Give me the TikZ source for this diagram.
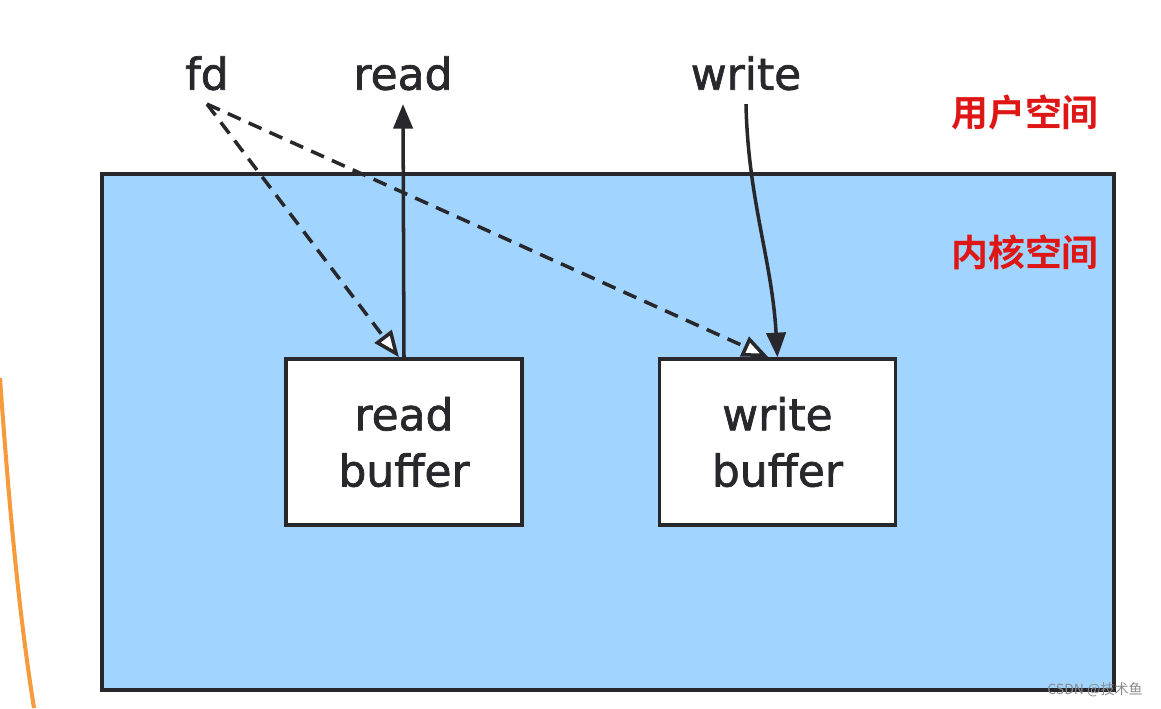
\documentclass[tikz,border=0pt]{standalone}
\usepackage{fontspec}
\setmainfont{DejaVu Sans}
\font\handfont="DejaVu Sans:embolden=1.6" at 25pt
\newcommand\bufferfont{\handfont\baselineskip=32pt\relax}
\newfontfamily\cjk{Noto Sans CJK SC}[BoldFont={Noto Sans CJK SC Bold}]
\usepackage{tikz}
\usetikzlibrary{arrows.meta,positioning}

\definecolor{kernblue}{RGB}{161,213,255}
\definecolor{edge}{RGB}{40,40,44}
\definecolor{spacered}{RGB}{222,22,22}
\definecolor{penorange}{RGB}{245,155,60}

\begin{document}
\begin{tikzpicture}[x=0.02cm,y=-0.02cm,node distance=2.68cm,
  lbl/.style={font=\handfont, text=edge, inner sep=8pt, text depth=0pt},
  space/.style={font=\cjk\bfseries\fontsize{21}{25}\selectfont, text=spacered},
  kernel/.style={draw=edge, line width=2pt, fill=kernblue, minimum width=20.24cm, minimum height=10.32cm},
  bufbox/.style={draw=edge, line width=2pt, fill=white, minimum width=4.72cm, minimum height=3.32cm,
    align=center, font=\bufferfont, text=edge},
  call/.style={draw=edge, line width=2pt, -{Triangle[length=14pt,width=11pt]}},
  ref/.style={draw=edge, line width=2pt, dash pattern=on 8pt off 5pt,
    -{Triangle[open,fill=white,length=15pt,width=12pt]}}]
  \useasboundingbox (0,0) rectangle (1161,708);

  % pen stroke at the left edge
  \draw[penorange, line width=2.3pt] (0,378) .. controls (10,520) and (20,620) .. (34,708);

  \node[kernel] (kern) at (608,432) {};
  \node[space] (user) at (1025,112) {用户空间};
  \node[space] (kspace) at (1025,252) {内核空间};

  \node[bufbox] (rbuf) at (404,442) {read\\buffer};
  \node[bufbox, right=of rbuf] (wbuf) {write\\buffer};

  \node[lbl] (fd) at (207,73) {fd};
  \node[lbl] (read) at (403,73) {read};
  \node[lbl] (write) at (746,73) {write};

  \draw[call] (rbuf.north) -- (read.south);
  \draw[call] (write.south) .. controls (748,200) and (772,260) .. (wbuf.north);
  \draw[ref] (fd.south) -- ([xshift=-0.1cm]rbuf.north);
  \draw[ref] (fd.south) -- ([xshift=-0.18cm]wbuf.north);

  \node[font=\cjk\fontsize{8}{10}\selectfont, text=black!45] (mark) at (1095,690) {CSDN @技术鱼};
\end{tikzpicture}
\end{document}
